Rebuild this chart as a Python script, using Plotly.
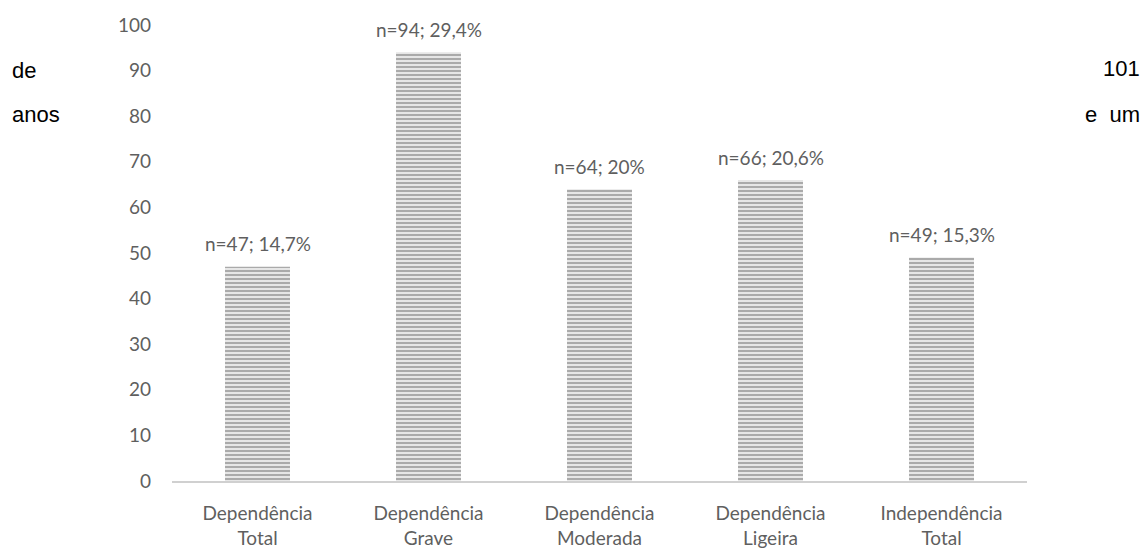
import plotly.graph_objects as go

categorias = ["Dependência<br>Total", "Dependência<br>Grave", "Dependência<br>Moderada",
              "Dependência<br>Ligeira", "Independência<br>Total"]
frequencias = [47, 94, 64, 66, 49]
percentagens = ["14,7%", "29,4%", "20%", "20,6%", "15,3%"]
rotulos = [f"n={n}; {p}" for n, p in zip(frequencias, percentagens)]
ticks_y = [0, 10, 20, 30, 40, 50, 60, 70, 80, 90, 100]

cinza = "#5f5f5f"
fonte = "Lato, Carlito, Calibri, sans-serif"
tam = 19

W, H = 1144, 551
L, R, T, B = 172, 117, 25, 70

fig = go.Figure(go.Bar(
    x=categorias,
    y=frequencias,
    width=0.38,
    marker=dict(
        color="#e4e4e4",
        line=dict(width=0),
        pattern=dict(shape="-", fgcolor="#a3a3a3", bgcolor="#e6e6e6",
                     size=4, solidity=0.45, fillmode="replace"),
    ),
))

# etiquetas n; % por cima de cada barra
for cat, val, rot in zip(categorias, frequencias, rotulos):
    fig.add_annotation(x=cat, y=val, text=rot, showarrow=False,
                       xanchor="center", yanchor="middle", yshift=23,
                       font=dict(family=fonte, size=tam, color=cinza))

fig.update_layout(
    width=W, height=H,
    margin=dict(l=L, r=R, t=T, b=B),
    paper_bgcolor="white", plot_bgcolor="white",
    showlegend=False,
)
fig.update_yaxes(
    range=[0, 100], tickvals=ticks_y, showgrid=False, zeroline=False,
    showline=False, ticks="", ticklabelstandoff=20, automargin=False,
    tickfont=dict(family=fonte, size=tam, color=cinza),
)
fig.update_xaxes(
    showline=True, linecolor="#d0d0d0", linewidth=2, ticks="",
    showgrid=False, ticklabelstandoff=14, automargin=False,
    tickfont=dict(family=fonte, size=tam, color=cinza),
)

# texto corrido que ladeia o gráfico
corpo = dict(family="Liberation Sans, Arial, sans-serif", size=22, color="black")
for txt, xx, yy, anc in [("de", 10, 70, "left"), ("anos", 10, 115, "left"),
                         ("101", 1142, 69, "right"), ("e  um", 1142, 115, "right")]:
    fig.add_annotation(text=txt, xref="paper", yref="paper",
                       x=(xx - L) / (W - L - R),
                       y=(H - B - yy) / (H - B - T),
                       xanchor=anc, yanchor="middle", showarrow=False, font=corpo)

fig.write_html("out.html")
